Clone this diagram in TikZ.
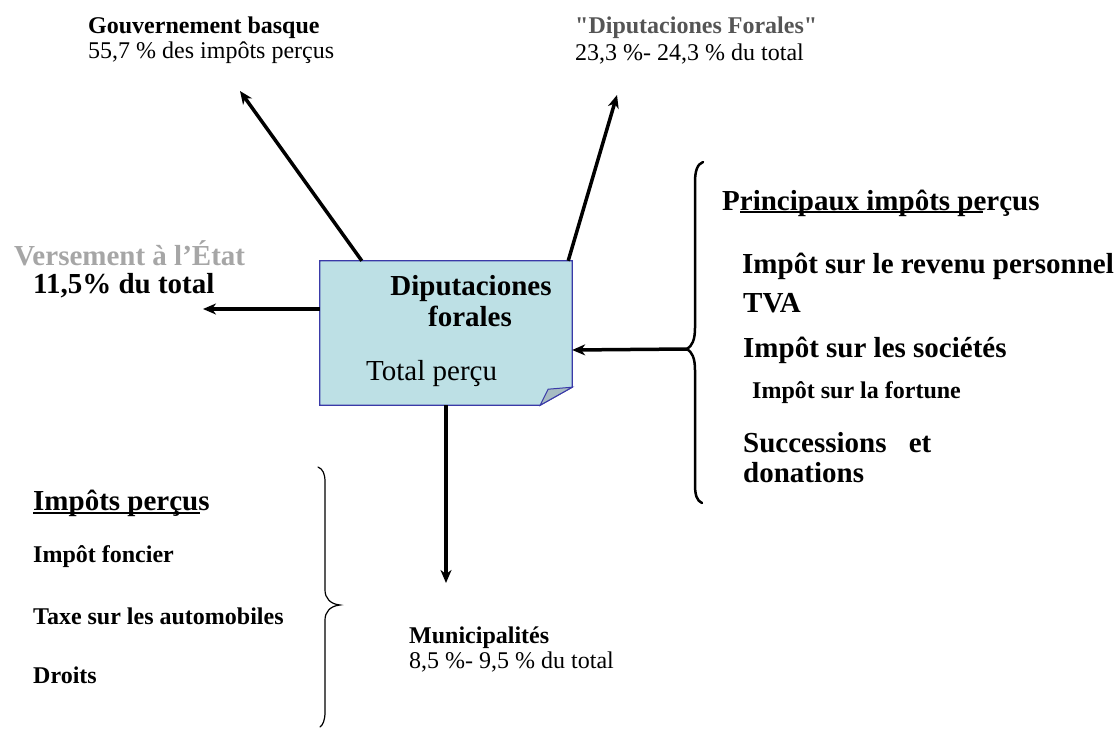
\documentclass[tikz,border=0pt]{standalone}
\usepackage{fontspec}
\setmainfont{Liberation Serif}
\newfontfamily\qfont{Liberation Serif}[Ligatures=TeXOff]
\usetikzlibrary{arrows.meta,calc}
\definecolor{boxfill}{HTML}{BDE0E5}
\definecolor{boxline}{HTML}{3A3AA8}
\definecolor{foldfill}{HTML}{A7BCC2}
\definecolor{vgray}{HTML}{A6A6A6}
\definecolor{dgray}{HTML}{555555}
\begin{document}
\begin{tikzpicture}[x=1pt,y=-1pt,
  lbl/.style={anchor=base west,inner sep=0pt,font=\fontsize{24}{26}\selectfont},
  lblb/.style={anchor=base west,inner sep=0pt,font=\fontsize{24}{26}\selectfont\bfseries},
  big/.style={anchor=base west,inner sep=0pt,font=\fontsize{29}{31}\selectfont\bfseries},
  arr/.style={line width=3.5pt,-{Stealth[length=13pt,width=11pt,inset=4pt]}},
  bracethick/.style={line width=2.5pt,line cap=round},
  bracethin/.style={line width=1.2pt,line cap=round},
  uline/.style={line width=1.8pt}]
\useasboundingbox (0,0) rectangle (1120,737);
% central box
\node[draw=none,minimum width=252pt,minimum height=144pt,inner sep=0pt] (box) at (446,333) {};
\filldraw[fill=boxfill,draw=boxline,line width=1.2pt]
  (box.north west) -- (box.north east) -- ($(box.south east)+(0,-18)$) -- ($(box.south east)+(-32,0)$) -- (box.south west) -- cycle;
\filldraw[fill=foldfill,draw=boxline,line width=1pt]
  ($(box.south east)+(-32,0)$) -- ($(box.south east)+(-24,-16)$) -- ($(box.south east)+(0,-18)$) -- cycle;
\node[anchor=base,inner sep=0pt,font=\fontsize{29}{31}\selectfont\bfseries] (d1) at (471,295) {Diputaciones};
\node[anchor=base,inner sep=0pt,font=\fontsize{29}{31}\selectfont\bfseries] (d2) at (470,326) {forales};
\node[anchor=base west,inner sep=0pt,font=\fontsize{29}{31}\selectfont] (tp) at (366,380) {Total perçu};
% top left
\node[lblb] (gb) at (88,33) {Gouvernement basque};
\node[lbl] (gb2) at (88,58) {55,7 \% des impôts perçus};
% top right
\node[lblb,text=dgray] (df) at (575,33) {\qfont\bfseries "Diputaciones Forales"};
\node[lbl] (df2) at (575,60) {23,3 \%- 24,3 \% du total};
% left
\node[big,text=vgray] (ve) at (14,265) {Versement à l’État};
\node[big] (ve2) at (33,293) {11,5\% du total};
% bottom
\node[lblb] (mu) at (409,643) {Municipalités};
\node[lbl] (mu2) at (409,668) {8,5 \%- 9,5 \% du total};
% right list
\node[big] (p0) at (722,210) {Principaux impôts perçus};
\draw[uline] (740,212) -- (983,212);
\node[big] (p1) at (742,273) {Impôt sur le revenu personnel};
\node[big] (p2) at (743,312) {TVA};
\node[big] (p3) at (743,357) {Impôt sur les sociétés};
\node[lblb] (p4) at (752,398) {Impôt sur la fortune};
\node[big] (p5) at (743,452) {Successions\hspace{15pt} et};
\node[big] (p6) at (743,482) {donations};
% left list
\node[big] (i0) at (33,510) {Impôts perçus};
\draw[uline] (33,513) -- (200,513);
\node[lblb] (i1) at (33,562) {Impôt foncier};
\node[lblb] (i2) at (33,624) {Taxe sur les automobiles};
\node[lblb] (i3) at (33,683) {Droits};
% braces
\coordinate (btip) at (687,349);
\draw[bracethick] (703,162) .. controls (697,164) and (695,172) .. (695,182) -- (695,328)
  .. controls (695,340) and (692,346) .. (btip) .. controls (692,352) and (695,358) .. (695,370)
  -- (695,485) .. controls (695,495) and (697,501) .. (702,503);
\draw[bracethin] (318,467) .. controls (323,469) and (325,474) .. (325,482) -- (325,590)
  .. controls (325,598) and (330,604) .. (340,605) .. controls (330,606) and (325,612) .. (325,620)
  -- (325,712) .. controls (325,720) and (323,725) .. (320,727);
% arrows
\coordinate (gtip) at (240,91);
\coordinate (dtip) at (617,95);
\coordinate (vtip) at (203,309);
\coordinate (mtip) at (446,583);
\draw[arr] ($(box.north west)+(42,0)$) -- (gtip);
\draw[arr] ($(box.north east)+(-4,0)$) -- (dtip);
\draw[arr] ($(box.west)+(0,-24)$) -- (vtip);
\draw[arr] (box.south) -- (mtip);
\draw[arr] (btip) -- ($(box.east)+(0,17)$);
\end{tikzpicture}
\end{document}
